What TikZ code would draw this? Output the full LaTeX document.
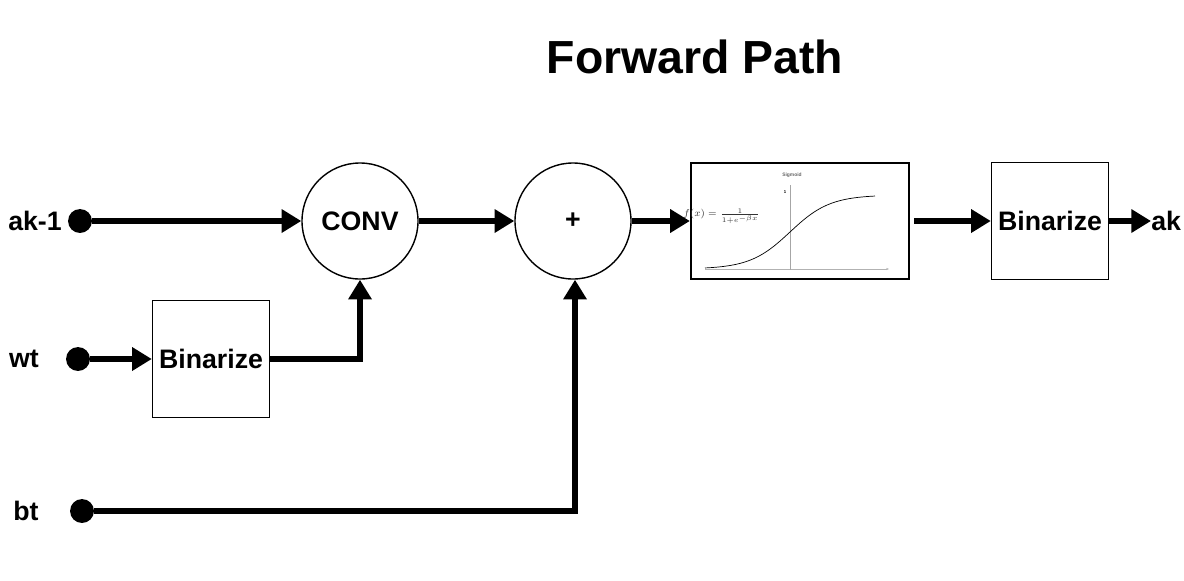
\documentclass[tikz,border=0pt]{standalone}
\usepackage{fontspec}
\setmainfont{Liberation Sans}
\usetikzlibrary{arrows.meta}
\tikzset{
  lbl/.style={font=\fontsize{19}{22}\selectfont\bfseries},
  dot/.style={circle, fill, inner sep=0pt, minimum size=17pt},
  op/.style={circle, draw, line width=1pt, minimum size=82.5pt, inner sep=0pt, lbl},
  blk/.style={draw, line width=1.2pt, minimum width=83pt, minimum height=83pt, inner sep=0pt, lbl},
  arr/.style={line width=4pt, -{Triangle[length=14pt, width=16pt]}}
}
\begin{document}
\begin{tikzpicture}[x=0.025cm, y=-0.025cm]
  \useasboundingbox (0,0) rectangle (1184,580);
  \node[font=\fontsize{33}{38}\selectfont\bfseries] (title) at (695,57) {Forward Path};
  % Inputs
  \foreach \nm/\txt/\lx/\dx/\y in {ak1/ak-1/35/80/221, wt/wt/24/78/359, bt/bt/26/82/511}
  {
    \node[dot] (\nm) at (\dx,\y) {};
    \node[lbl] (\nm-l) at (\lx,\y) {\txt};
  }
  % Blocks
  \node[op] (conv) at (360,221) {CONV};
  \node[op] (plus) at (573,221) {+};
  \node[blk] (bin1) at (211,359) {Binarize};
  \node[blk] (bin2) at (1050,221) {Binarize};
  \node[draw, line width=1.6pt, minimum width=155pt, minimum height=83pt, inner sep=0pt] (sig) at (800,221) {};
  \node[lbl, anchor=west, inner sep=0pt] (ak) at (1151,221) {ak};
  % Sigmoid plot
  \draw[gray!60, line width=0.3pt, -{Stealth[length=2pt]}] (705,269) -- (889,269);
  \draw[gray!70, line width=0.6pt] (790,185) -- (790,270);
  \draw[line width=0.5pt] plot[domain=705:875, samples=60] (\x, {269 - 74/(1+exp(-(\x-790)/20))});
  \node[font=\fontsize{3.5}{4}\selectfont\bfseries, text=gray!80!black] (sigt) at (792,175) {Sigmoid};
  \node[font=\fontsize{3}{4}\selectfont\bfseries] (one) at (785,192) {1};
  \node[font=\fontsize{7.5}{8}\selectfont, text=black!80, anchor=west, inner sep=0pt] (fx) at (683,216) {$f(x)=\frac{1}{1+e^{-\beta x}}$};
  % Connectors
  \draw[arr] (ak1) -- (conv);
  \draw[arr] (wt) -- (bin1);
  \draw[arr] (bin1.east) -| (conv.south);
  \draw[line width=4pt] (bt) -| (575,300);
  \draw[arr] (575,300) -- (plus.south -| 575,300);
  \draw[arr] (conv) -- (plus);
  \draw[arr] (plus.east) -- (plus.east -| sig.west);
  \draw[arr] ([xshift=3pt]sig.east) -- (bin2.west);
  \draw[arr] (bin2.east) -- (bin2.east -| ak.west);
\end{tikzpicture}
\end{document}
